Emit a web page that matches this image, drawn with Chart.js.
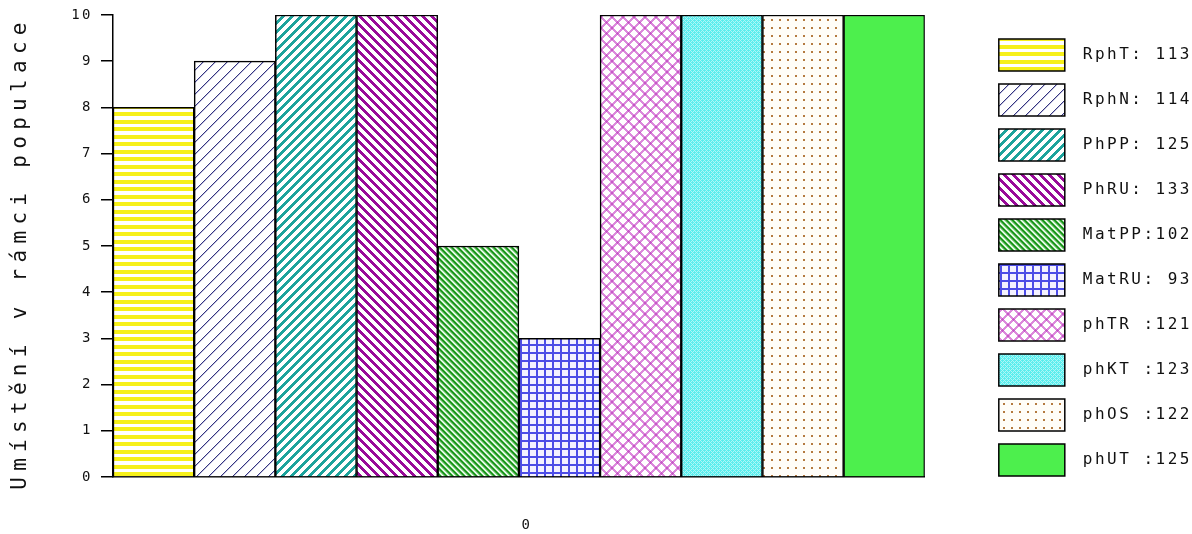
<!DOCTYPE html>
<html>
<head>
<meta charset="utf-8">
<script src="https://cdn.jsdelivr.net/npm/chart.js@4.4.1/dist/chart.umd.min.js"></script>
<style>
  body { margin: 0; background: #fff; }
  #wrap { width: 1192px; height: 534px; position: relative; }
</style>
</head>
<body>
<div id="wrap"><canvas id="chart"></canvas></div>
<script>
const categories = ['0'];
const seriesNames = ['RphT: 113', 'RphN: 114', 'PhPP: 125', 'PhRU: 133', 'MatPP:102',
                     'MatRU: 93', 'phTR :121', 'phKT :123', 'phOS :122', 'phUT :125'];
const seriesValues = [8, 9, 10, 10, 5, 3, 10, 10, 10, 10];
const yTitle = 'Umístění v rámci populace';

const mono = 'DejaVu Sans Mono';

// pixel tiles used as bar fills (colorAt returns a colour or null for white)
function tile(w, h, colorAt) {
    const c = document.createElement('canvas');
    c.width = w; c.height = h;
    const g = c.getContext('2d');
    g.fillStyle = '#fff';
    g.fillRect(0, 0, w, h);
    for (let y = 0; y < h; y++) {
        for (let x = 0; x < w; x++) {
            const col = colorAt(x, y);
            if (col) { g.fillStyle = col; g.fillRect(x, y, 1, 1); }
        }
    }
    return g.createPattern(c, 'repeat');
}
const up = (x, y, s) => (x + y) % s;          // "/" stripes
const down = (x, y, s) => (x - y + s * 50) % s; // "\" stripes

const fills = [
    tile(4, 15, (x, y) => (y < 4 || (y >= 7 && y < 11)) ? '#f6f01a' : null),
    tile(12, 12, (x, y) => up(x, y, 12) === 0 ? '#34347e' : (up(x, y, 12) === 1 ? '#c0c0de' : null)),
    tile(9, 9, (x, y) => up(x, y, 9) < 4 ? '#1ca39c' : null),
    tile(9, 9, (x, y) => down(x, y, 9) < 4 ? '#990a99' : null),
    tile(6, 6, (x, y) => ['#1a961a', '#1a961a', '#a6dca6', null, '#a6dca6', '#5cb85c'][down(x, y, 6)]),
    tile(8, 8, (x, y) => (x < 2 || y < 2) ? '#4d4de6' : '#f4f2ff'),
    tile(11, 11, (x, y) => {
        const a = up(x, y, 11) < 3, b = down(x, y, 11) < 3;
        return a && b ? '#c658c6' : (a || b ? '#dc8adc' : null);
    }),
    tile(4, 4, (x, y) => (up(x, y, 4) === 0 || down(x, y, 4) === 0) ? '#aef6f6' : '#5aeeee'),
    tile(8, 8, (x, y) => (x >= 3 && x < 5 && y >= 3 && y < 5) ? '#b47a40' : '#fffdf8'),
    '#4def4d'
];

const datasets = seriesNames.map((name, i) => ({
    label: name,
    data: [seriesValues[i]],
    backgroundColor: fills[i],
    borderColor: '#000',
    borderWidth: 1.5,
    barPercentage: 1,
    categoryPercentage: 1
}));

// letter spacing for the wide bitmap look of the original, plus the rotated axis title
const spacing = {
    id: 'spacing',
    beforeLayout(chart) { chart.ctx.letterSpacing = '2.5px'; },
    beforeDraw(chart) { chart.ctx.letterSpacing = '2.5px'; },
    afterDraw(chart) {
        const ctx = chart.ctx;
        const area = chart.chartArea;
        ctx.save();
        ctx.letterSpacing = '6.3px';
        ctx.font = '21px "' + mono + '"';
        ctx.fillStyle = '#111';
        ctx.textAlign = 'center';
        ctx.textBaseline = 'middle';
        ctx.translate(21, (area.top + area.bottom) / 2 + 7);
        ctx.rotate(-Math.PI / 2);
        ctx.fillText(yTitle, 0, 0);
        ctx.restore();
    }
};

new Chart(document.getElementById('chart'), {
    type: 'bar',
    data: { labels: categories, datasets: datasets },
    plugins: [spacing],
    options: {
        responsive: true,
        maintainAspectRatio: false,
        animation: false,
        layout: { padding: { top: 15, right: 0, left: 0, bottom: 0 } },
        scales: {
            x: {
                afterFit: (s) => { s.height = 57; },
                grid: { display: false, drawTicks: false },
                border: { display: true, color: '#000', width: 1.5 },
                ticks: { color: '#111', padding: 40, labelOffset: 8, font: { family: mono, size: 14 } }
            },
            y: {
                min: 0,
                max: 10,
                afterFit: (s) => { s.width = 113; s.paddingTop = 0; s.paddingBottom = 0; },
                ticks: { stepSize: 1, color: '#111', padding: 8, font: { family: mono, size: 14 } },
                grid: { drawOnChartArea: false, tickLength: 12, color: '#000', lineWidth: 1.5 },
                border: { color: '#000', width: 1.5 }
            },
            gap: {
                type: 'linear',
                position: 'right',
                display: true,
                afterFit: (s) => { s.width = 61; s.paddingTop = 0; s.paddingBottom = 0; },
                grid: { display: false },
                ticks: { display: false },
                border: { display: false }
            }
        },
        plugins: {
            tooltip: { enabled: false },
            legend: {
                position: 'right',
                align: 'start',
                maxWidth: 300,
                title: { display: true, text: ' ', padding: 0, font: { size: 11, lineHeight: 1 } },
                labels: {
                    boxWidth: 66,
                    boxHeight: 32,
                    padding: 13,
                    textAlign: 'right',
                    color: '#111',
                    font: { family: mono, size: 16 }
                }
            }
        }
    }
});
</script>
</body>
</html>
